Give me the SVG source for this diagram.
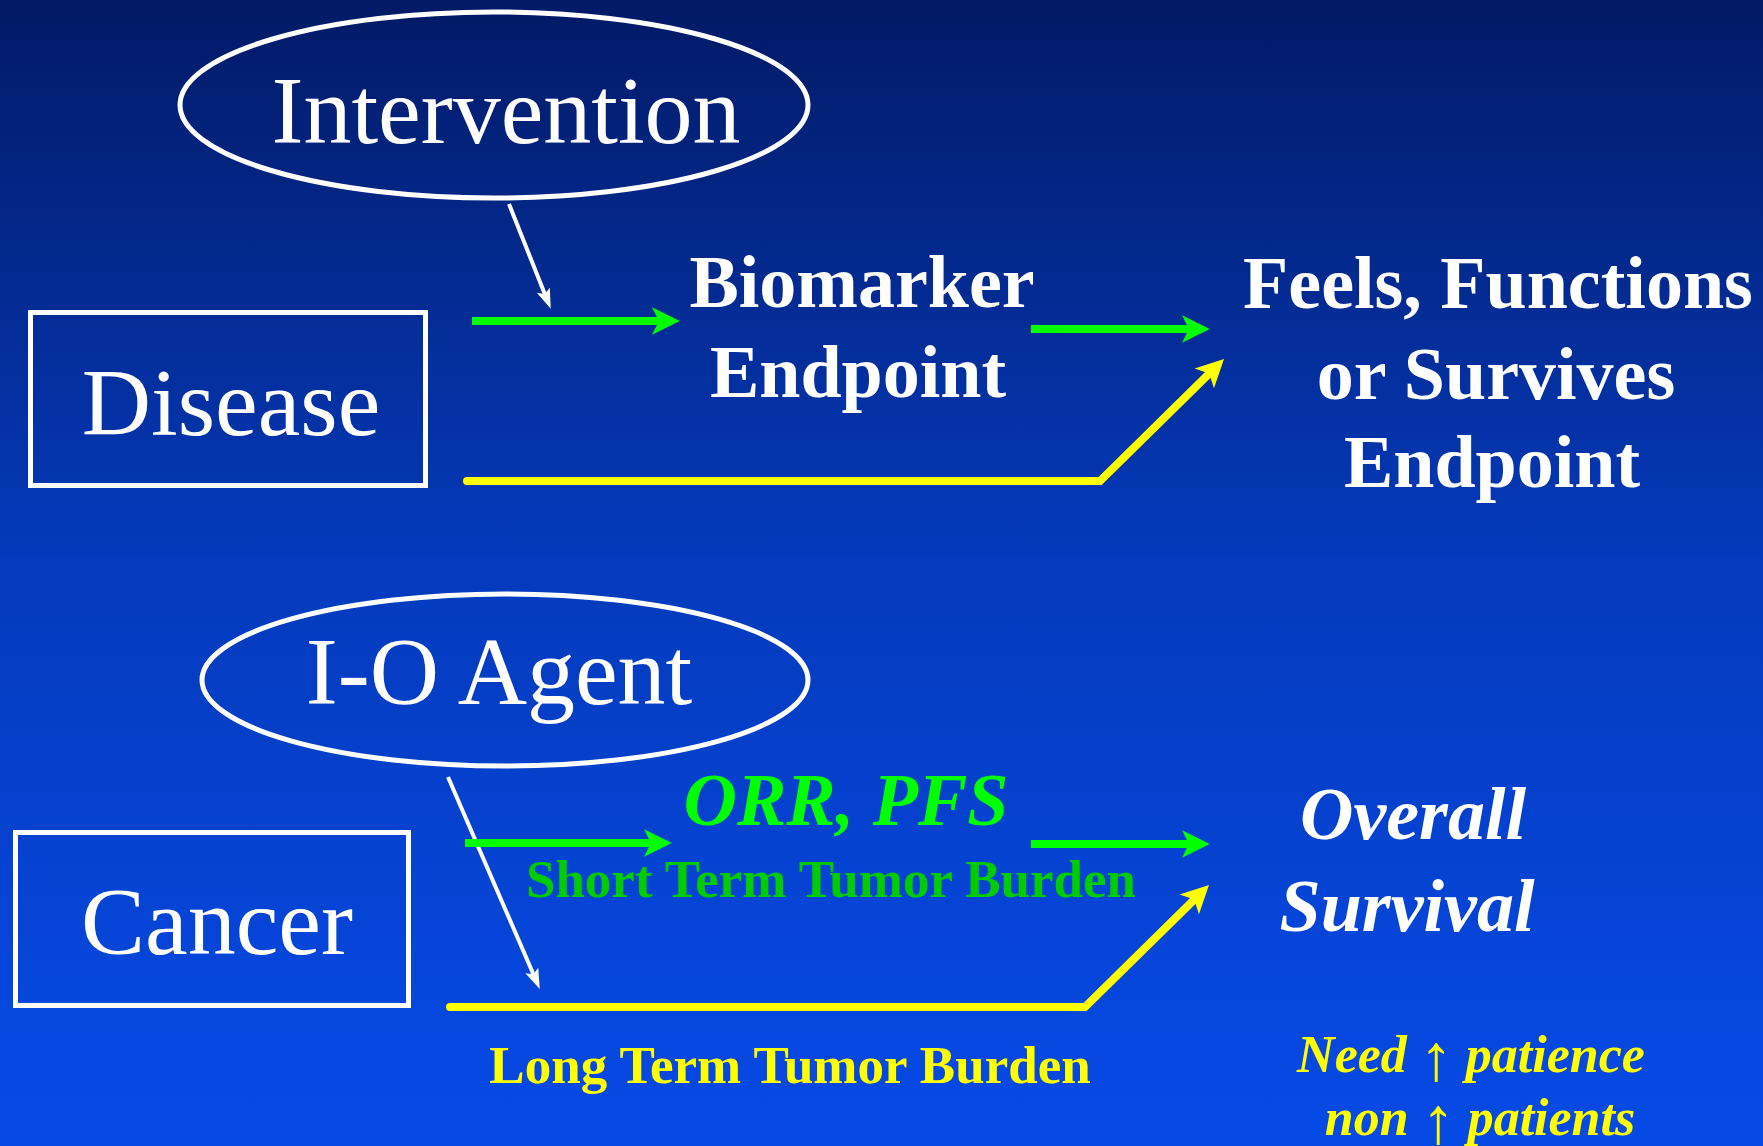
<svg xmlns="http://www.w3.org/2000/svg" width="1763" height="1146" viewBox="0 0 1763 1146">
<defs>
<linearGradient id="bg" x1="0" y1="0" x2="0" y2="1">
<stop offset="0" stop-color="#021a66"/>
<stop offset="0.5" stop-color="#043bbd"/>
<stop offset="1" stop-color="#064ae6"/>
</linearGradient>
<marker id="ga" markerUnits="userSpaceOnUse" markerWidth="30" markerHeight="30" viewBox="0 -13 25 26" refX="6" refY="0" orient="auto" overflow="visible">
<path d="M0,-12 L24,0 L0,12 L6,0 Z" fill="#00ff00"/>
</marker>
<marker id="ya" markerUnits="userSpaceOnUse" markerWidth="30" markerHeight="30" viewBox="0 -13 25 26" refX="6" refY="0" orient="auto" overflow="visible">
<path d="M0,-12 L24,0 L0,12 L6,0 Z" fill="#ffff00"/>
</marker>
<marker id="wa" markerUnits="userSpaceOnUse" markerWidth="22" markerHeight="16" viewBox="0 -8 21 16" refX="4" refY="0" orient="auto" overflow="visible">
<path d="M0,-7 L20,0 L0,7 L4,0 Z" fill="#ffffff"/>
</marker>
</defs>
<style>
.node { fill: none; stroke: #ffffff; }
.big { font-family: "Liberation Serif", "Times New Roman", serif; font-size: 96px; fill: #ffffff; text-anchor: middle; }
.bold { font-family: "Liberation Serif", "Times New Roman", serif; font-weight: bold; font-size: 74px; fill: #ffffff; text-anchor: middle; }
.bi { font-family: "Liberation Serif", "Times New Roman", serif; font-weight: bold; font-style: italic; font-size: 74px; text-anchor: middle; }
.small { font-family: "Liberation Serif", "Times New Roman", serif; font-weight: bold; font-size: 53px; text-anchor: middle; }
.note { font-family: "Liberation Serif", "Times New Roman", serif; font-weight: bold; font-style: italic; font-size: 52px; fill: #ffff00; text-anchor: middle; }
.arr { font-weight: normal; font-style: normal; font-size: 66px; }
.green { fill: none; stroke: #00ff00; stroke-width: 8; marker-end: url(#ga); }
.yellow { fill: none; stroke: #ffff00; stroke-width: 8; stroke-linecap: round; stroke-linejoin: miter; marker-end: url(#ya); }
.white { fill: none; stroke: #ffffff; stroke-width: 4; marker-end: url(#wa); }
</style>
<rect x="0" y="0" width="1763" height="1146" fill="url(#bg)"/>

<g id="intervention">
<ellipse class="node" cx="494" cy="105" rx="314" ry="93" stroke-width="5"/>
<text class="big" x="506" y="143">Intervention</text>
</g>
<g id="disease">
<rect class="node" x="30.5" y="312.5" width="395" height="173" stroke-width="5"/>
<text class="big" x="231" y="435">Disease</text>
</g>
<g id="biomarker">
<text class="bold" x="862" y="307">Biomarker</text>
<text class="bold" x="858" y="397">Endpoint</text>
</g>
<g id="ffs">
<text class="bold" x="1498" y="308">Feels, Functions</text>
<text class="bold" x="1496" y="399">or Survives</text>
<text class="bold" x="1492" y="487">Endpoint</text>
</g>

<g id="ioagent">
<ellipse class="node" cx="505" cy="680" rx="303" ry="86" stroke-width="5"/>
<text class="big" x="499" y="704">I-O Agent</text>
</g>
<g id="cancer">
<rect class="node" x="15.5" y="832.5" width="393" height="173" stroke-width="5"/>
<text class="big" x="217" y="954">Cancer</text>
</g>
<g id="orr">
<text class="bi" x="846" y="825" fill="#00ff00">ORR, PFS</text>
<text class="small" x="831" y="897" fill="#00cc00">Short Term Tumor Burden</text>
</g>
<g id="longterm">
<text class="small" x="790" y="1083" fill="#ffff00">Long Term Tumor Burden</text>
</g>
<g id="os">
<text class="bi" x="1413" y="839" fill="#ffffff">Overall</text>
<text class="bi" x="1407" y="931" fill="#ffffff">Survival</text>
</g>
<g id="note">
<text class="note" x="1471" y="1072">Need <tspan class="arr" dy="8">↑</tspan><tspan dy="-8"> patience</tspan></text>
<text class="note" x="1480" y="1135">non <tspan class="arr" dy="8">↑</tspan><tspan dy="-8"> patients</tspan></text>
</g>

<g id="connectors">
<line class="white" x1="509" y1="204" x2="544.8" y2="294"/>
<line class="green" x1="472" y1="321" x2="659" y2="321"/>
<line class="green" x1="1031" y1="329" x2="1189" y2="329"/>
<polyline class="yellow" points="467,481 1100,481 1209.2,373.6"/>
<line class="white" x1="448" y1="777" x2="533.4" y2="974.2"/>
<line class="green" x1="465" y1="843" x2="651" y2="843"/>
<line class="green" x1="1031" y1="844" x2="1189" y2="844"/>
<polyline class="yellow" points="450,1007 1085,1007 1194.2,899.6"/>
</g>
</svg>
